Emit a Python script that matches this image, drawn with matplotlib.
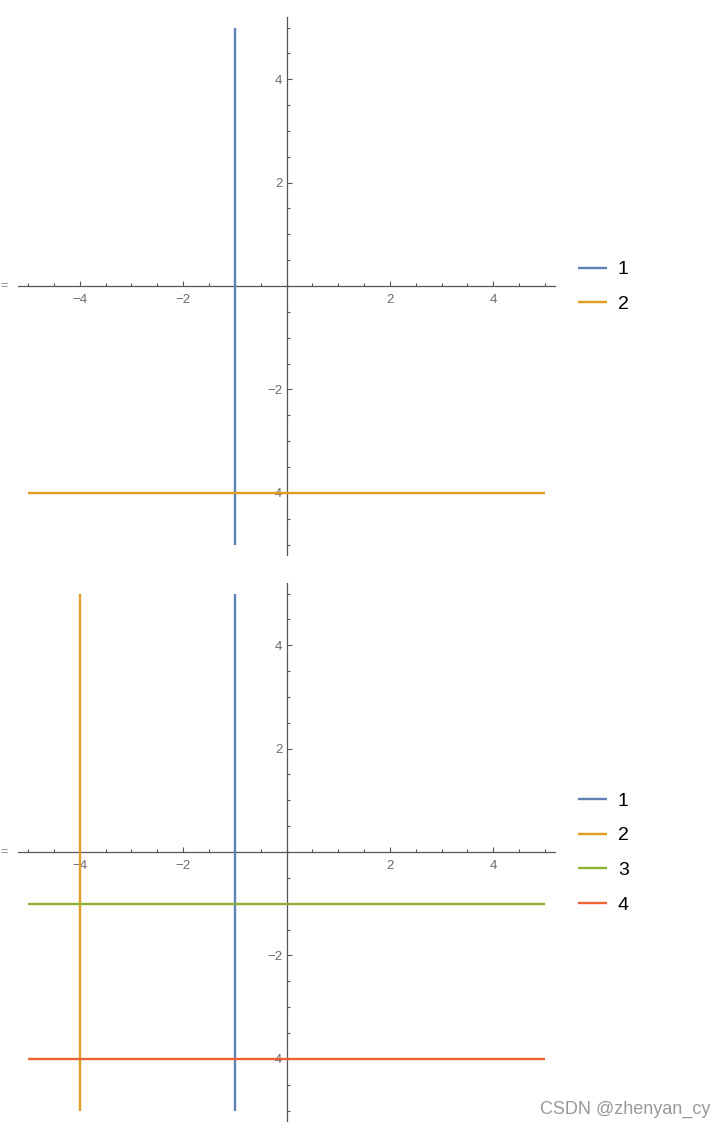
import matplotlib.pyplot as plt
from matplotlib.ticker import MultipleLocator, FixedLocator

# Daten: senkrechte Geraden (x = const) und waagerechte Geraden (y = const)
plot_range = (-5, 5)
top_labels = ['1', '2']
top_kind = ['v', 'h']
top_values = [-1, -4]
bottom_labels = ['1', '2', '3', '4']
bottom_kind = ['v', 'v', 'h', 'h']
bottom_values = [-1, -4, -1, -4]
major_ticks = [-4, -2, 2, 4]

colors = ['#5E81B5', '#E19C24', '#8FB032', '#EB6235']
axis_color = '#555555'
label_color = '#6a6a6a'

plt.rcParams['font.family'] = ['Liberation Sans', 'DejaVu Sans']

W, H = 726, 1128
fig = plt.figure(figsize=(W / 100, H / 100), dpi=100)


def setup_axes(ax):
    ax.set_xlim(-5.2, 5.2)
    ax.set_ylim(-5.2, 5.2)
    for side in ['top', 'right']:
        ax.spines[side].set_visible(False)
    for side in ['left', 'bottom']:
        ax.spines[side].set_position('zero')
        ax.spines[side].set_color(axis_color)
        ax.spines[side].set_linewidth(0.9)
    for axis in [ax.xaxis, ax.yaxis]:
        axis.set_major_locator(FixedLocator(major_ticks))
        axis.set_minor_locator(MultipleLocator(0.5))
    ax.tick_params(which='both', direction='in', color=axis_color,
                   width=0.8, labelcolor=label_color, labelsize=9.5)
    ax.tick_params(which='major', length=3.8)
    ax.tick_params(which='minor', length=2.0)
    ax.tick_params(axis='x', pad=6)
    ax.tick_params(axis='y', pad=3)
    ax.set_facecolor('none')


def draw(ax, kinds, values, labels):
    for k, v, lbl, c in zip(kinds, values, labels, colors):
        if k == 'v':
            ax.plot([v, v], plot_range, color=c, lw=1.7, label=lbl, zorder=3,
                    solid_capstyle='butt')
        else:
            ax.plot(plot_range, [v, v], color=c, lw=1.7, label=lbl, zorder=3,
                    solid_capstyle='butt')


# Pixelpositionen der Achsen (x = 0 bei 286 px, ca. 51.7 px pro Einheit)
px_unit = 51.7
x0 = 286.5
left_px = x0 - 5.2 * px_unit
width_px = 10.4 * px_unit
height_px = 10.4 * px_unit

for y0_px, kinds, values, labels, leg_y in [
        (286, top_kind, top_values, top_labels, 287),
        (852, bottom_kind, bottom_values, bottom_labels, 853)]:
    top_px = y0_px - 5.2 * px_unit
    ax = fig.add_axes([left_px / W, 1 - (top_px + height_px) / H,
                       width_px / W, height_px / H])
    setup_axes(ax)
    draw(ax, kinds, values, labels)
    ax.legend(loc='center left', bbox_to_anchor=(578 / W, 1 - leg_y / H),
              bbox_transform=fig.transFigure, frameon=False, fontsize=14,
              handlelength=1.5, handletextpad=0.55, labelspacing=0.88,
              borderaxespad=0, borderpad=0)
    fig.text(0 / W, 1 - y0_px / H, '=', fontsize=9, color='#888888',
             va='center', ha='left')

fig.text(710 / W, 1 - 1109 / H, 'CSDN @zhenyan_cy', fontsize=13,
         color='#999999', ha='right', va='center')

fig.savefig('out.png', dpi=100)
